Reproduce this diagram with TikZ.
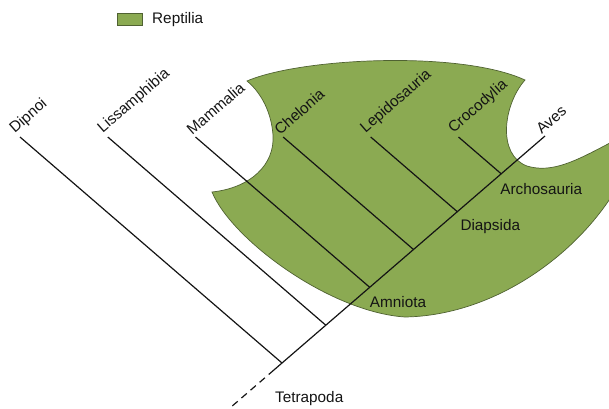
\documentclass[tikz,border=0pt]{standalone}
\usepackage{fontspec}
\setmainfont{Liberation Sans}
\usetikzlibrary{calc}
\definecolor{reptgreen}{RGB}{139,170,82}
\definecolor{reptedge}{RGB}{80,98,50}
\definecolor{inkc}{RGB}{20,20,20}
\tikzset{
  branch/.style={line width=1.2pt, draw=inkc},
  rootdash/.style={line width=1.2pt, draw=inkc, dash pattern=on 7pt off 5pt},
  clade/.style={fill=reptgreen, draw=reptedge, line width=0.7pt},
  taxon/.style={font=\fontsize{15.3}{18}\selectfont, text=inkc, rotate=41, anchor=south west, inner sep=0.6pt},
  cladelbl/.style={font=\fontsize{15.3}{18}\selectfont, text=inkc, anchor=north west, inner sep=0pt},
  legendbox/.style={fill=reptgreen, draw=reptedge, line width=0.7pt, minimum width=25pt, minimum height=12pt, inner sep=0pt}
}
\begin{document}
\begin{tikzpicture}[x=1pt,y=-1pt]
\useasboundingbox (0,0) rectangle (609,408);
% green Reptilia region
\begin{scope}
\clip (0,0) rectangle (609,408);
\path[clade] (247,81) .. controls (300,58) and (460,50) .. (525,80)
  .. controls (503,105) and (497,155) .. (527,166)
  .. controls (560,176) and (592,150) .. (640,128)
  .. controls (625,215) and (520,315) .. (405,317)
  .. controls (330,312) and (232,240) .. (212,192)
  .. controls (250,188) and (275,165) .. (273,135)
  .. controls (271,108) and (258,90) .. (247,81) -- cycle;
\end{scope}
% joins on the stem
\coordinate (jDip) at (282,363);
\coordinate (jLis) at (325.8,325.2);
\coordinate (jMam) at (369.7,287.3);
\coordinate (jChe) at (413.5,249.5);
\coordinate (jLep) at (457.3,211.7);
\coordinate (jCro) at (501.2,173.8);
\coordinate (tAve) at (545,136);
% tips
\coordinate (tDip) at (20,137);
\coordinate (tLis) at (107.8,137);
\coordinate (tMam) at (195.5,137);
\coordinate (tChe) at (283.1,137);
\coordinate (tLep) at (370.7,137);
\coordinate (tCro) at (458.5,137);
% root
\coordinate (rStub) at (274,369.9);
\coordinate (rEnd) at (232,406.2);
% stem and branches
\draw[branch] (rStub) -- (jDip) -- (tAve);
\draw[rootdash] (rStub) -- (rEnd);
\draw[branch] (jDip) -- (tDip);
\draw[branch] (jLis) -- (tLis);
\draw[branch] (jMam) -- (tMam);
\draw[branch] (jChe) -- (tChe);
\draw[branch] (jLep) -- (tLep);
\draw[branch] (jCro) -- (tCro);
% taxon labels
\node[taxon] (lDip) at ($(tDip)+(-3,0)$) {Dipnoi};
\node[taxon] (lLis) at ($(tLis)+(-3,0)$) {Lissamphibia};
\node[taxon] (lMam) at ($(tMam)+(-3,0)$) {Mammalia};
\node[taxon] (lChe) at ($(tChe)+(-3,0)$) {Chelonia};
\node[taxon] (lLep) at ($(tLep)+(-3,0)$) {Lepidosauria};
\node[taxon] (lCro) at ($(tCro)+(-3,0)$) {Crocodylia};
\node[taxon] (lAve) at ($(tAve)+(-3,0)$) {Aves};
% clade labels
\node[cladelbl] (cAmn) at ($(jMam)+(0,9)$) {Amniota};
\node[cladelbl] (cDia) at ($(jLep)+(3,8)$) {Diapsida};
\node[cladelbl] (cArc) at ($(jCro)+(-1,9)$) {Archosauria};
\node[cladelbl] (cTet) at ($(jDip)+(-7,28)$) {Tetrapoda};
% legend
\node[legendbox] (legbox) at (129.5,19.5) {};
\node[font=\fontsize{15.3}{18}\selectfont, text=inkc, anchor=west, inner sep=0pt] (legtxt) at (152,19.5) {Reptilia};
\end{tikzpicture}
\end{document}
